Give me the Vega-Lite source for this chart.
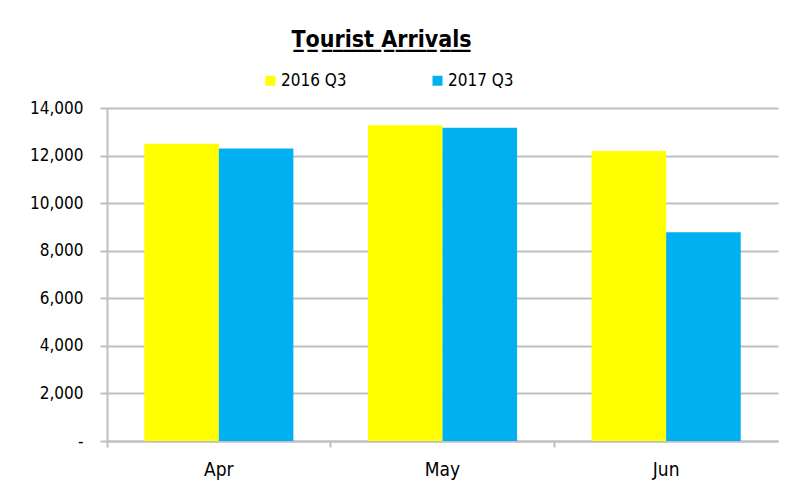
{
  "$schema": "https://vega.github.io/schema/vega-lite/v6.json",
  "autosize": "none",
  "width": 671,
  "height": 333,
  "padding": {"left": 107, "top": 108, "right": 9, "bottom": 41},
  "background": "white",
  "config": {
    "font": "DejaVu Sans Condensed",
    "view": {"stroke": null}
  },
  "title": {
    "text": "T̲o̲u̲r̲i̲s̲t̲ ̲A̲r̲r̲i̲v̲a̲l̲s̲",
    "font": "DejaVu Sans Condensed",
    "fontSize": 23,
    "fontWeight": "bold",
    "color": "black",
    "anchor": "middle",
    "frame": "group",
    "baseline": "alphabetic",
    "dx": -61,
    "offset": 2
  },
  "data": {
    "values": [
      {"month": "Apr", "series": "2016 Q3", "arrivals": 12500},
      {"month": "Apr", "series": "2017 Q3", "arrivals": 12300},
      {"month": "May", "series": "2016 Q3", "arrivals": 13280},
      {"month": "May", "series": "2017 Q3", "arrivals": 13170},
      {"month": "Jun", "series": "2016 Q3", "arrivals": 12190},
      {"month": "Jun", "series": "2017 Q3", "arrivals": 8780}
    ]
  },
  "mark": {"type": "bar"},
  "encoding": {
    "x": {
      "field": "month",
      "type": "nominal",
      "sort": ["Apr", "May", "Jun"],
      "scale": {"paddingInner": 0, "paddingOuter": 0},
      "axis": {
        "title": null,
        "labelAngle": 0,
        "labelFont": "DejaVu Sans Condensed",
        "labelFontSize": 19,
        "labelColor": "black",
        "labelPadding": 13,
        "bandPosition": 0,
        "domainColor": "#BFBFBF",
        "domainWidth": 2,
        "tickColor": "#BFBFBF",
        "tickWidth": 2,
        "tickSize": 6,
        "grid": false
      }
    },
    "xOffset": {
      "field": "series",
      "type": "nominal",
      "scale": {"paddingInner": 0, "paddingOuter": 0.5}
    },
    "y": {
      "field": "arrivals",
      "type": "quantitative",
      "scale": {"domain": [0, 14000], "nice": false},
      "axis": {
        "title": null,
        "values": [0, 2000, 4000, 6000, 8000, 10000, 12000, 14000],
        "labelExpr": "datum.value == 0 ? '-' : format(datum.value, ',')",
        "labelFont": "DejaVu Sans Condensed",
        "labelFontSize": 17,
        "labelColor": "black",
        "labelPadding": 17,
        "domainColor": "#BFBFBF",
        "domainWidth": 2,
        "tickColor": "#BFBFBF",
        "tickWidth": 2,
        "tickSize": 7,
        "gridColor": "#BFBFBF",
        "gridWidth": 2
      }
    },
    "color": {
      "field": "series",
      "type": "nominal",
      "scale": {"domain": ["2016 Q3", "2017 Q3"], "range": ["#FFFF00", "#00B0F0"]},
      "legend": {
        "title": null,
        "orient": "none",
        "direction": "horizontal",
        "legendX": 155,
        "legendY": -36,
        "padding": 0,
        "symbolType": "square",
        "symbolSize": 100,
        "symbolStrokeWidth": 0,
        "labelFont": "DejaVu Sans Condensed",
        "labelFontSize": 17,
        "labelColor": "black",
        "labelOffset": 2,
        "columnPadding": 82
      }
    }
  }
}
